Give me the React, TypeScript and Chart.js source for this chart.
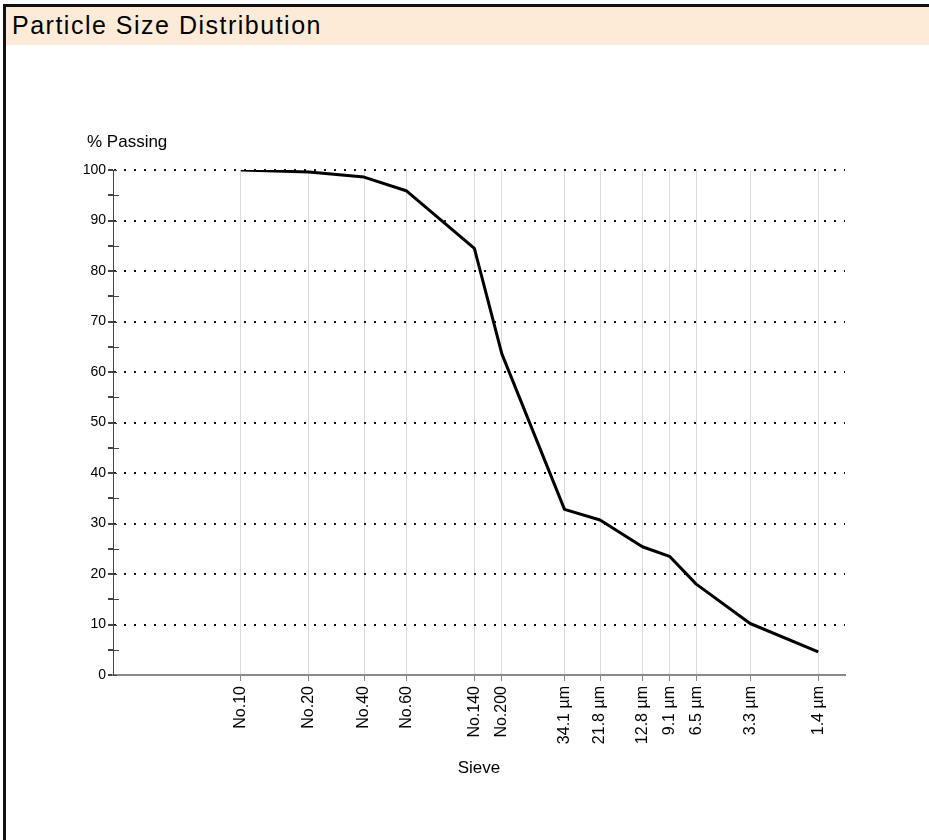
import { useEffect, useRef } from 'react';
import { Chart, registerables } from 'chart.js';

Chart.register(...registerables);

const FONT = "'Liberation Sans', Arial, sans-serif";

const sieveLabels = ['No.10', 'No.20', 'No.40', 'No.60', 'No.140', 'No.200', '34.1 µm', '21.8 µm', '12.8 µm', '9.1 µm', '6.5 µm', '3.3 µm', '1.4 µm'];
const sieveSizesMm = [2.0, 0.85, 0.425, 0.25, 0.106, 0.075, 0.0341, 0.0218, 0.0128, 0.0091, 0.0065, 0.0033, 0.0014];
const percentPassing = [100, 99.6, 98.6, 95.9, 84.5, 63.6, 32.8, 30.7, 25.4, 23.5, 18.0, 10.2, 4.6];

const chartTitle = 'Particle Size Distribution';
const yAxisTitle = '% Passing';
const xAxisTitle = 'Sieve';
const sizeMin = 0.001;
const sizeMax = 10;
const passMin = 0;
const passMax = 100;

const axisTextPlugin = {
  id: 'axisText',
  afterDraw(chart: any) {
    const { ctx, chartArea, scales } = chart;
    ctx.save();
    const y = scales.y;
    ctx.strokeStyle = '#444';
    ctx.lineWidth = 1;
    y.ticks.forEach((t: any) => {
      const py = Math.round(y.getPixelForValue(t.value)) + 0.5;
      const len = t.value % 10 === 0 ? 4 : 6;
      ctx.beginPath();
      ctx.moveTo(chartArea.left, py);
      ctx.lineTo(chartArea.left + len, py);
      ctx.stroke();
    });
    ctx.fillStyle = '#000';
    ctx.font = `17px ${FONT}`;
    ctx.textBaseline = 'alphabetic';
    ctx.textAlign = 'left';
    ctx.fillText(yAxisTitle, chartArea.left - 26, chartArea.top - 23);
    ctx.textAlign = 'center';
    ctx.fillText(xAxisTitle, (chartArea.left + chartArea.right) / 2, chartArea.bottom + 98);
    ctx.restore();
  },
};

export default function App() {
  const canvasRef = useRef<HTMLCanvasElement | null>(null);

  useEffect(() => {
    if (!canvasRef.current) return;
    const chart = new Chart(canvasRef.current, {
      type: 'line',
      data: {
        datasets: [
          {
            data: sieveSizesMm.map((x, i) => ({ x, y: percentPassing[i] })),
            borderColor: '#000',
            borderWidth: 3,
            pointRadius: 0,
            tension: 0,
            fill: false,
            borderJoinStyle: 'round',
          },
        ],
      },
      options: {
        animation: false,
        responsive: false,
        devicePixelRatio: 1,
        layout: { padding: { top: 170, right: 84, left: 0, bottom: 0 } },
        plugins: {
          legend: { display: false },
          tooltip: { enabled: false },
          title: { display: false },
        },
        scales: {
          x: {
            type: 'logarithmic',
            reverse: true,
            min: sizeMin,
            max: sizeMax,
            afterBuildTicks: (s: any) => {
              s.ticks = sieveSizesMm.map((v) => ({ value: v }));
            },
            afterFit: (s: any) => {
              s.height = 165;
            },
            ticks: {
              autoSkip: false,
              minRotation: 90,
              maxRotation: 90,
              padding: 5,
              color: '#000',
              font: { family: FONT, size: 16 },
              callback: (_v: any, i: number) => sieveLabels[i],
            },
            grid: { color: '#dedbd6', lineWidth: 1, tickLength: 6, tickColor: '#888' },
            border: { color: '#888', width: 2 },
          },
          y: {
            type: 'linear',
            min: passMin,
            max: passMax,
            afterFit: (s: any) => {
              s.width = 113;
            },
            ticks: {
              stepSize: 5,
              padding: 2,
              color: '#000',
              font: { family: FONT, size: 14 },
              callback: (v: any) => (Number(v) % 10 === 0 ? String(v) : ''),
            },
            grid: {
              color: (c: any) => (c.tick && c.tick.value % 10 === 0 && c.tick.value !== 0 ? '#111' : 'rgba(0,0,0,0)'),
              lineWidth: 2,
              tickLength: 5,
              tickColor: '#444',
              tickBorderDash: [],
            },
            border: { color: '#444', width: 1, dash: [2, 8] },
          },
        },
      },
      plugins: [axisTextPlugin],
    } as any);
    return () => chart.destroy();
  }, []);

  return (
    <div style={{ position: 'fixed', left: 0, top: 0, width: 929, height: 840, overflow: 'hidden', background: '#fff' }}>
      <div style={{ position: 'absolute', left: 3, top: 4, width: 1000, height: 1000, borderLeft: '3px solid #111', borderTop: '3px solid #111' }} />
      <div style={{ position: 'absolute', left: 6, top: 7, width: 923, height: 38, background: '#FDEBD8' }} />
      <div style={{ position: 'absolute', left: 12, top: 11, fontFamily: FONT, fontSize: 25, letterSpacing: '1.5px', color: '#000', whiteSpace: 'nowrap' }}>{chartTitle}</div>
      <canvas ref={canvasRef} width={929} height={840} style={{ position: 'absolute', left: 0, top: 0 }} />
    </div>
  );
}
